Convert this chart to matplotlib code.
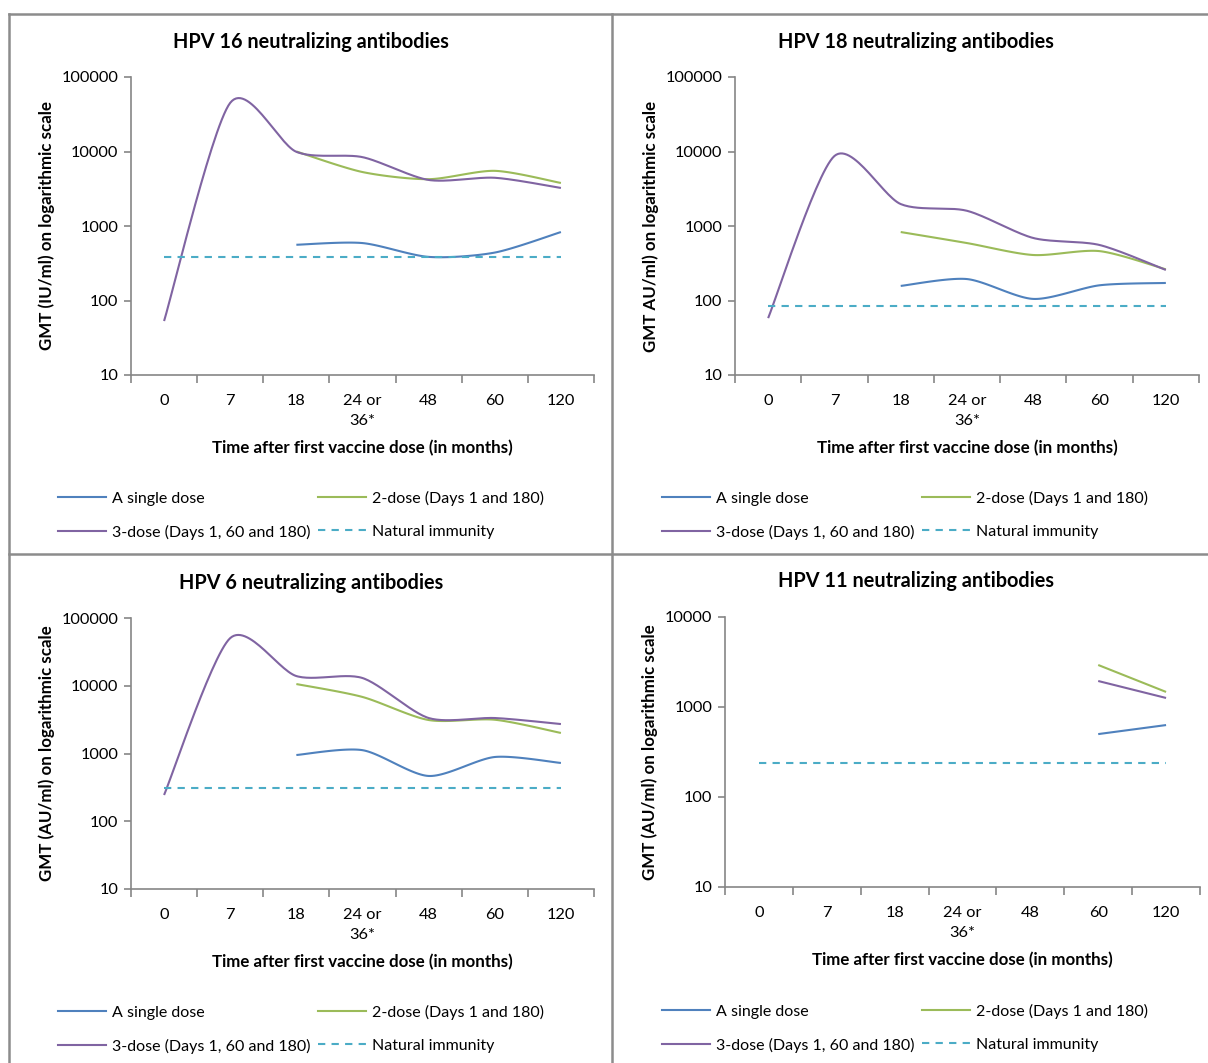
import numpy as np
import matplotlib
matplotlib.use("Agg")
from matplotlib import pyplot as plt
from matplotlib.lines import Line2D

plt.rcParams["font.family"] = ["Lato", "DejaVu Sans"]

W, H = 1208, 1063

categories = ["0", "7", "18", "24 or\n36*", "48", "60", "120"]

# HPV 16 (IU/ml)
hpv16_single = [None, None, 560, 590, 385, 440, 830]
hpv16_two = [None, None, 10000, 5300, 4250, 5500, 3780]
hpv16_three = [53, 45000, 9900, 8400, 4150, 4440, 3240]
hpv16_natural = 380

# HPV 18 (AU/ml)
hpv18_single = [None, None, 157, 194, 105, 160, 172]
hpv18_two = [None, None, 830, 590, 408, 460, 262]
hpv18_three = [58, 8700, 1970, 1600, 690, 556, 257]
hpv18_natural = 85

# HPV 6 (AU/ml)
hpv6_single = [None, None, 950, 1120, 466, 888, 725]
hpv6_two = [None, None, 10600, 6830, 3120, 3150, 2010]
hpv6_three = [244, 50500, 13900, 13000, 3340, 3340, 2720]
hpv6_natural = 310

# HPV 11 (AU/ml)
hpv11_single = [None, None, None, None, None, 500, 630]
hpv11_two = [None, None, None, None, None, 2930, 1470]
hpv11_three = [None, None, None, None, None, 1945, 1260]
hpv11_natural = 239

c_single = "#4F81BD"
c_two = "#9BBB59"
c_three = "#8064A2"
c_nat = "#4BACC6"
axis_gray = "#868686"


def smooth(vals):
    # Catmull-Rom curve through the points (log space), like Excel smoothed lines
    pts = [(i, np.log10(v)) for i, v in enumerate(vals) if v is not None]
    xs, ys = [], []
    if len(pts) < 3:
        return [p[0] for p in pts], [10 ** p[1] for p in pts]
    p = [pts[0]] + pts + [pts[-1]]
    for k in range(1, len(p) - 2):
        p0, p1, p2, p3 = [np.array(q) for q in p[k - 1:k + 3]]
        t = np.linspace(0, 1, 30)[:, None]
        m1 = (p2 - p0) / 2 * 0.8
        m2 = (p3 - p1) / 2 * 0.8
        h00 = 2 * t**3 - 3 * t**2 + 1
        h10 = t**3 - 2 * t**2 + t
        h01 = -2 * t**3 + 3 * t**2
        h11 = t**3 - t**2
        seg = h00 * p1 + h10 * m1 + h01 * p2 + h11 * m2
        xs.extend(seg[:, 0])
        ys.extend(seg[:, 1])
    return xs, [10 ** y for y in ys]


def panel(box, title, ylabel, ymax, single, two, three, natural, title_xy, leg_xy):
    l, t, r, b = box
    ax = fig.add_axes([l / W, 1 - b / H, (r - l) / W, (b - t) / H])
    ax.set_yscale("log")
    ax.set_ylim(10, ymax)
    ax.set_xlim(-0.5, 6.5)
    for vals, c in [(single, c_single), (two, c_two), (three, c_three)]:
        xs, ys = smooth(vals)
        ax.plot(xs, ys, color=c, lw=1.5, solid_capstyle="butt")
    h_single = Line2D([], [], color=c_single, lw=1.5)
    h_two = Line2D([], [], color=c_two, lw=1.5)
    h_three = Line2D([], [], color=c_three, lw=1.5)
    ax.plot([0, 6], [natural, natural], color=c_nat, lw=1.5, ls=(0, (3.5, 3)))
    h_nat = Line2D([], [], color=c_nat, lw=1.5, ls=(0, (3.5, 3)))

    for s in ["top", "right"]:
        ax.spines[s].set_visible(False)
    for s in ["left", "bottom"]:
        ax.spines[s].set_color(axis_gray)
        ax.spines[s].set_linewidth(1.2)
    ax.set_xticks(range(7))
    ax.set_xticklabels(categories, fontsize=11.8, linespacing=1.55)
    ax.set_xticks(np.arange(-0.5, 7, 1), minor=True)
    ax.tick_params(axis="x", which="major", length=0, pad=14)
    ax.tick_params(axis="x", which="minor", length=6, color=axis_gray, width=1.2)
    ticks = [10 ** k for k in range(1, int(np.log10(ymax)) + 1)]
    ax.set_yticks(ticks)
    ax.set_yticklabels([str(v) for v in ticks], fontsize=11.8)
    ax.yaxis.set_minor_locator(matplotlib.ticker.NullLocator())
    ax.tick_params(axis="y", which="major", length=5, color=axis_gray, width=1.2, pad=4)
    ax.set_ylabel(ylabel, fontsize=12.2, fontweight="bold", labelpad=5)
    ax.set_xlabel("Time after first vaccine dose (in months)", fontsize=12.2,
                  fontweight="bold", labelpad=8)
    fig.text(title_xy[0] / W, 1 - title_xy[1] / H, title, fontsize=14.3,
             fontweight="bold", ha="center", va="center")
    fig.legend([h_single, h_three, h_two, h_nat],
               ["A single dose", "3-dose (Days 1, 60 and 180)",
                "2-dose (Days 1 and 180)", "Natural immunity"],
               ncol=2, frameon=False, fontsize=11.5, loc="upper left",
               bbox_to_anchor=(leg_xy[0] / W, 1 - leg_xy[1] / H),
               borderaxespad=0, borderpad=0, handlelength=3.0,
               handletextpad=0.35, columnspacing=0.5, labelspacing=1.17)
    return ax


fig = plt.figure(figsize=(W / 100, H / 100), dpi=100)

panel((131, 77, 594, 375), "HPV 16 neutralizing antibodies",
      "GMT (IU/ml) on logarithmic scale", 100000,
      hpv16_single, hpv16_two, hpv16_three, hpv16_natural, (311, 42), (58, 491))
panel((735, 77, 1199, 375), "HPV 18 neutralizing antibodies",
      "GMT AU/ml) on logarithmic scale", 100000,
      hpv18_single, hpv18_two, hpv18_three, hpv18_natural, (916, 42), (662, 491))
panel((131, 618, 594, 889), "HPV 6 neutralizing antibodies",
      "GMT (AU/ml) on logarithmic scale", 100000,
      hpv6_single, hpv6_two, hpv6_three, hpv6_natural, (311, 583), (58, 1005))
panel((725, 617, 1200, 887), "HPV 11 neutralizing antibodies",
      "GMT (AU/ml) on logarithmic scale", 10000,
      hpv11_single, hpv11_two, hpv11_three, hpv11_natural, (916, 581), (662, 1004))

# table-like grid borders
border = dict(color="#8c8c8c", lw=1.8, transform=fig.transFigure)
fig.add_artist(Line2D([9 / W, 9 / W], [1 - 14 / H, 0], **border))
fig.add_artist(Line2D([9 / W, 1], [1 - 14 / H, 1 - 14 / H], **border))
fig.add_artist(Line2D([612 / W, 612 / W], [1 - 14 / H, 0], **border))
fig.add_artist(Line2D([9 / W, 1], [1 - 554 / H, 1 - 554 / H], **border))

fig.savefig("out.png", dpi=100)
